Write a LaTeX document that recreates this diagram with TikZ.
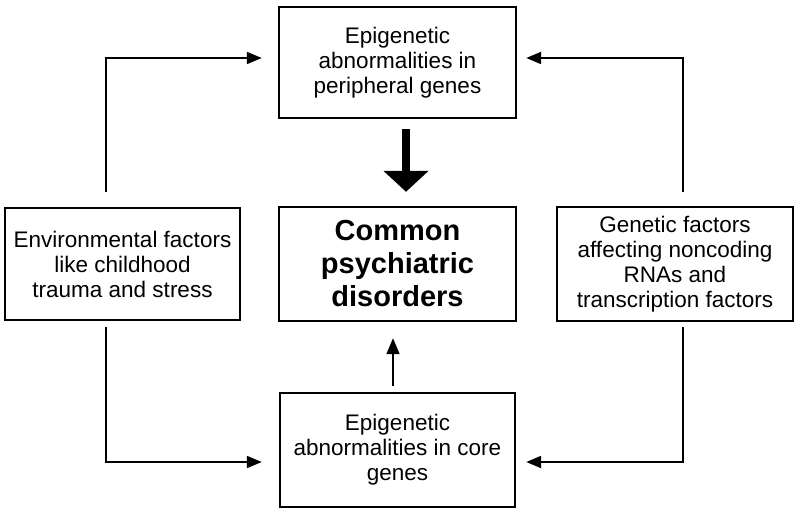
\documentclass[tikz,border=0pt]{standalone}
\usepackage{fontspec}
\setmainfont{Liberation Sans}
\usetikzlibrary{arrows.meta}
\begin{document}
\begin{tikzpicture}[x=1pt,y=-1pt,
  box/.style={draw, line width=2.4pt, align=center, inner sep=0pt,
    font=\fontsize{22.5}{25}\selectfont},
  conn/.style={line width=2pt, -{Triangle[length=15pt,width=12pt]}},
  thin/.style={line width=1.6pt, -{Triangle[length=16pt,width=13pt]}},
  thick/.style={line width=8pt, -{Triangle[length=21pt,width=44pt]}}]
\useasboundingbox (0,0) rectangle (800,513);
\node[box, minimum width=237pt, minimum height=111pt] (top) at (397.5,62.5)
  {Epigenetic\\abnormalities in\\peripheral genes};
\node[box, minimum width=237pt, minimum height=114pt,
  font=\fontsize{29}{33}\selectfont\bfseries] (center) at (397.5,264)
  {Common\\psychiatric\\disorders};
\node[box, minimum width=235pt, minimum height=112pt] (left) at (122.5,264)
  {Environmental factors\\like childhood\\trauma and stress};
\node[box, minimum width=236pt, minimum height=114pt] (right) at (675,264)
  {Genetic factors\\affecting noncoding\\RNAs and\\transcription factors};
\node[box, minimum width=235pt, minimum height=114pt] (bottom) at (397.5,450)
  {Epigenetic\\abnormalities in core\\genes};
\draw[thick] ([xshift=8.5pt,yshift=-10pt]top.south) -- ([xshift=8.5pt,yshift=14pt]center.north);
\draw[thin] ([xshift=-4.5pt,yshift=6pt]bottom.north) -- ([xshift=-4.5pt,yshift=-16pt]center.south);
\draw[conn] ([xshift=-16.5pt,yshift=15pt]left.north) |- ([xshift=-16pt,yshift=4.5pt]top.west);
\draw[conn] ([xshift=8pt,yshift=14pt]right.north) |- ([xshift=9pt,yshift=4.5pt]top.east);
\draw[conn] ([xshift=-16.5pt,yshift=-6pt]left.south) |- ([xshift=-17pt,yshift=-12pt]bottom.west);
\draw[conn] ([xshift=8pt,yshift=-5pt]right.south) |- ([xshift=10pt,yshift=-12pt]bottom.east);
\end{tikzpicture}
\end{document}
